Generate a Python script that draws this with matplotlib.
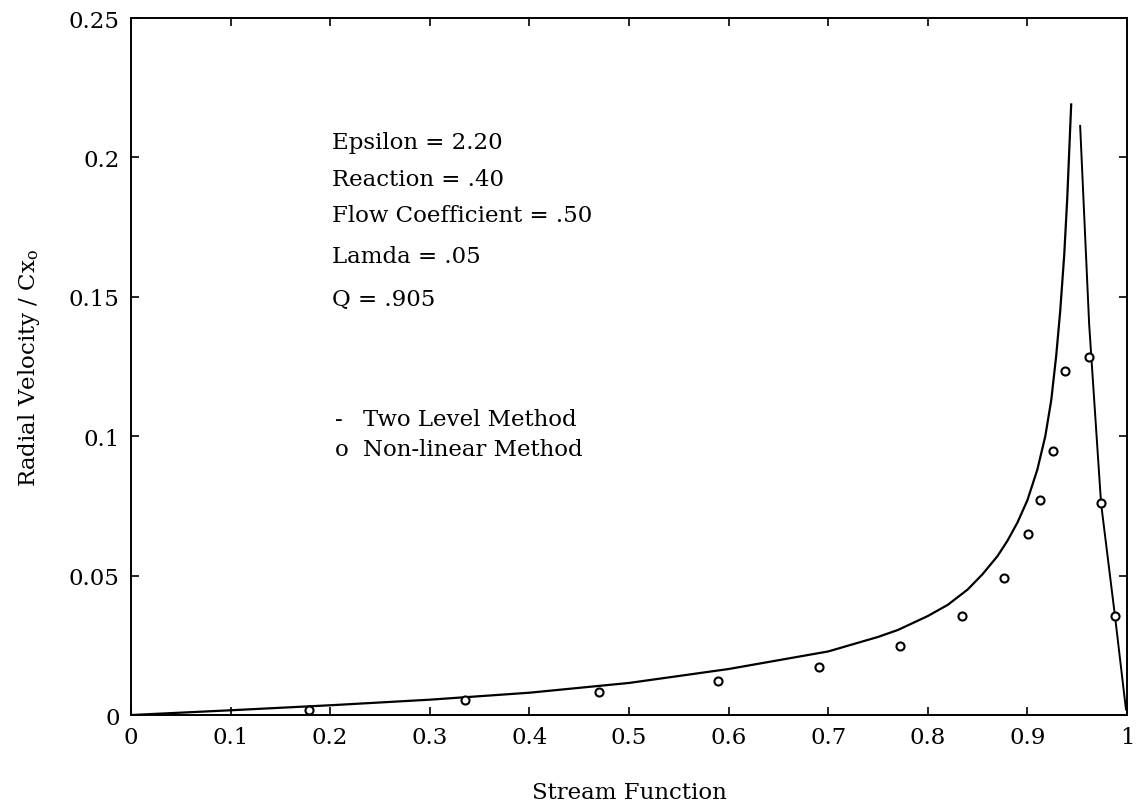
import matplotlib
matplotlib.use("Agg")
import matplotlib.pyplot as plt
from matplotlib.ticker import FixedLocator, FixedFormatter

plt.rcParams["font.family"] = ["DejaVu Serif"]
plt.rcParams["mathtext.fontset"] = "custom"
plt.rcParams["mathtext.rm"] = "DejaVu Serif"
plt.rcParams["mathtext.it"] = "DejaVu Serif:italic"

# Two level method: rising branch up to the peak, then the falling branch
two_level_x_up = [0.0, 0.1, 0.2, 0.3, 0.4, 0.5, 0.6, 0.7, 0.75, 0.77, 0.8,
                  0.82, 0.84, 0.855, 0.87, 0.88, 0.89, 0.90, 0.91, 0.918,
                  0.924, 0.929, 0.933, 0.937, 0.940, 0.944]
two_level_y_up = [0.0, 0.0017, 0.0035, 0.0055, 0.0080, 0.0115, 0.0165, 0.0228,
                  0.0280, 0.0305, 0.0355, 0.0395, 0.0450, 0.0505, 0.0570,
                  0.0625, 0.0690, 0.0770, 0.0880, 0.1000, 0.1130, 0.1290,
                  0.1450, 0.1650, 0.1850, 0.2190]
two_level_x_down = [0.953, 0.962, 0.974, 0.988, 0.999]
two_level_y_down = [0.2113, 0.1404, 0.0759, 0.0354, 0.0020]

# Non-linear method samples
nonlinear_x = [0.179, 0.335, 0.470, 0.589, 0.691, 0.772, 0.834, 0.877,
               0.901, 0.913, 0.926, 0.938, 0.962, 0.974, 0.988]
nonlinear_y = [0.0018, 0.0055, 0.0081, 0.0123, 0.0172, 0.0247, 0.0354, 0.0493,
               0.0648, 0.0773, 0.0948, 0.1233, 0.1285, 0.0759, 0.0354]

x_ticks = [0, 0.1, 0.2, 0.3, 0.4, 0.5, 0.6, 0.7, 0.8, 0.9, 1]
x_tick_labels = ["0", "0.1", "0.2", "0.3", "0.4", "0.5", "0.6", "0.7", "0.8", "0.9", "1"]
y_ticks = [0, 0.05, 0.1, 0.15, 0.2, 0.25]
y_tick_labels = ["0", "0.05", "0.1", "0.15", "0.2", "0.25"]

param_lines = ["Epsilon = 2.20", "Reaction = .40", "Flow Coefficient = .50",
               "Lamda = .05", "Q = .905"]
legend_lines = [("-", "Two Level Method"), ("o", "Non-linear Method")]

FS = 16.5

fig = plt.figure(figsize=(11.38, 8.12), dpi=100)
ax = fig.add_axes([0.1151, 0.1182, 0.8752, 0.8584])

ax.plot(two_level_x_up, two_level_y_up, color="black", lw=1.6)
ax.plot(two_level_x_down, two_level_y_down, color="black", lw=1.4)
ax.plot(nonlinear_x, nonlinear_y, linestyle="none", marker="o", ms=5.8,
        mfc="white", mec="black", mew=1.5)

ax.set_xlim(0, 1)
ax.set_ylim(0, 0.25)
ax.xaxis.set_major_locator(FixedLocator(x_ticks))
ax.xaxis.set_major_formatter(FixedFormatter(x_tick_labels))
ax.yaxis.set_major_locator(FixedLocator(y_ticks))
ax.yaxis.set_major_formatter(FixedFormatter(y_tick_labels))
ax.tick_params(axis="both", direction="in", length=6, width=1.2,
               top=True, right=True, labelsize=FS, colors="black")
ax.tick_params(axis="x", pad=8)
ax.tick_params(axis="y", pad=8)

for sp in ax.spines.values():
    sp.set_linewidth(1.4)
    sp.set_color("black")

ax.set_xlabel("Stream Function", fontsize=FS, labelpad=24)
ax.set_ylabel(r"Radial Velocity / Cx$_{\mathrm{o}}$", fontsize=FS, labelpad=19)

# Parameter block
param_y_px = [143, 180, 216, 257, 300]
for text, ypx in zip(param_lines, param_y_px):
    fig.text(332 / 1138, 1 - ypx / 812, text, fontsize=FS, va="center", ha="left")

# Hand-written key
key_y_px = [420, 450]
for (sym, label), ypx in zip(legend_lines, key_y_px):
    fig.text(335 / 1138, 1 - ypx / 812, sym, fontsize=FS, va="center", ha="left")
    fig.text(363 / 1138, 1 - ypx / 812, label, fontsize=FS, va="center", ha="left")

fig.savefig("out.png", dpi=100, facecolor="white")
